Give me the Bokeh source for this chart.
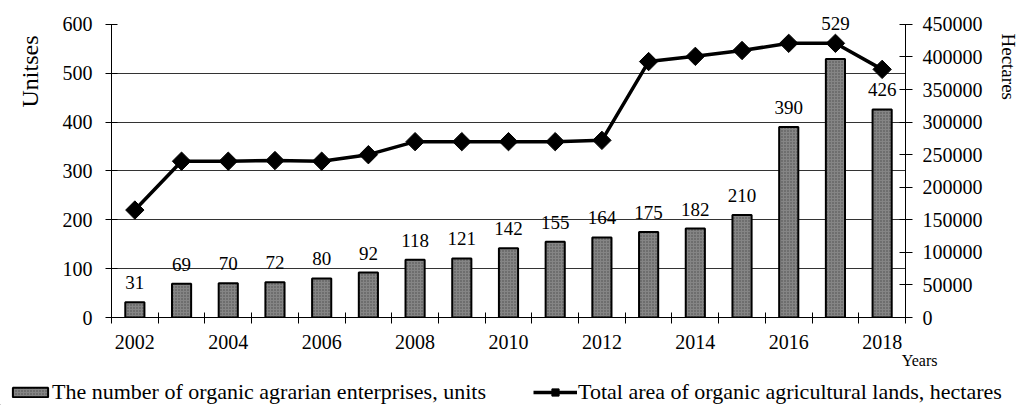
import math

from bokeh.core.properties import value
from bokeh.embed import file_html
from bokeh.layouts import column
from bokeh.models import (ColumnDataSource, FixedTicker, LabelSet, Legend,
                          LegendItem, LinearAxis, NumeralTickFormatter, Range1d, Title)
from bokeh.plotting import figure
from bokeh.resources import INLINE

# ---- data -------------------------------------------------------------
years = [2002, 2003, 2004, 2005, 2006, 2007, 2008, 2009, 2010,
         2011, 2012, 2013, 2014, 2015, 2016, 2017, 2018]
enterprises = [31, 69, 70, 72, 80, 92, 118, 121, 142,
               155, 164, 175, 182, 210, 390, 529, 426]
area_ha = [165000, 240000, 240000, 241000, 240000, 250000, 270000, 270000, 270000,
           270000, 272000, 393000, 401000, 410000, 421000, 421000, 381000]

year_labels = [2002, 2004, 2006, 2008, 2010, 2012, 2014, 2016, 2018]
units_ticks = [0, 100, 200, 300, 400, 500, 600]
units_grid = [100, 200, 300, 400, 500]
hectare_ticks = [0, 50000, 100000, 150000, 200000, 250000, 300000, 350000, 400000, 450000]

bar_name = "The number of organic agrarian enterprises, units"
line_name = "Total area of organic agricultural lands, hectares"

FONT = "Liberation Serif"
TICK_SIZE = "20px"

BAR_STYLE = dict(fill_color="#858585", line_color="black", line_width=2,
                 hatch_pattern="dot", hatch_color="#4a4a4a", hatch_scale=3,
                 hatch_weight=1)
LINE_STYLE = dict(line_color="black", line_width=3.5)
MARK_STYLE = dict(marker="square", angle=math.pi / 4, fill_color="black",
                  line_color="black")

# plot geometry: the axes run 294 px tall, the frame gets 20 px of headroom
# above the top tick so that raised value labels are not cut off
AXIS_PX = 294
HEAD_PX = 20
headroom = (AXIS_PX + HEAD_PX) / AXIS_PX

# the tallest bar's label is lifted clear of the area line's marker
peak = enterprises.index(max(enterprises))
label_lift = [13] * len(years)
label_lift[peak] = 29

src = ColumnDataSource(dict(
    year=years,
    ent=enterprises,
    ent_text=[str(v) for v in enterprises],
    lift=label_lift,
    area=area_ha,
))

p = figure(
    width=1036, height=370,
    output_backend="svg", toolbar_location=None,
    x_range=Range1d(years[0] - 0.5, years[-1] + 0.5),
    y_range=Range1d(units_ticks[0], units_ticks[-1] * headroom),
    min_border_left=111, min_border_right=131,
    min_border_top=24 - HEAD_PX, min_border_bottom=52,
)
p.outline_line_color = None
p.background_fill_color = "white"
p.border_fill_color = "white"
p.extra_y_ranges = {"ha": Range1d(hectare_ticks[0], hectare_ticks[-1] * headroom)}

# ---- bars ----------------------------------------------------------------
p.vbar(x="year", top="ent", width=0.41, source=src, **BAR_STYLE)

p.add_layout(LabelSet(
    x="year", y="ent", text="ent_text", source=src,
    y_offset="lift", text_align="center", text_baseline="bottom",
    text_font=value(FONT), text_font_size=value("19px"), text_color="black",
))

# ---- area line on secondary axis ----------------------------------------------
p.line("year", "area", source=src, y_range_name="ha", **LINE_STYLE)
p.scatter("year", "area", source=src, y_range_name="ha", size=13, **MARK_STYLE)

# ---- axes ----------------------------------------------------------------
xa = p.xaxis[0]
xa.ticker = FixedTicker(ticks=year_labels,
                        minor_ticks=[y - 0.5 for y in years] + [years[-1] + 0.5])
xa.major_label_overrides = {y: str(y) for y in year_labels}
xa.major_tick_in = 0
xa.major_tick_out = 0
xa.minor_tick_in = 5
xa.minor_tick_out = 6
xa.minor_tick_line_color = "black"
xa.axis_line_color = "black"
xa.major_label_standoff = 11
xa.major_label_text_font = FONT
xa.major_label_text_font_size = TICK_SIZE
xa.major_label_text_color = "black"

ya = p.yaxis[0]
ya.ticker = FixedTicker(ticks=units_ticks)
ya.bounds = (units_ticks[0], units_ticks[-1])
ya.minor_tick_line_color = None
ya.major_tick_in = 6
ya.major_tick_out = 6
ya.major_tick_line_color = "black"
ya.axis_line_color = "black"
ya.major_label_standoff = 13
ya.major_label_text_font = FONT
ya.major_label_text_font_size = TICK_SIZE
ya.major_label_text_color = "black"

ra = LinearAxis(y_range_name="ha", ticker=FixedTicker(ticks=hectare_ticks),
                formatter=NumeralTickFormatter(format="0"),
                bounds=(hectare_ticks[0], hectare_ticks[-1]))
ra.minor_tick_line_color = None
ra.major_tick_in = 6
ra.major_tick_out = 7
ra.major_tick_line_color = "black"
ra.axis_line_color = "black"
ra.major_label_standoff = 10
ra.major_label_text_font = FONT
ra.major_label_text_font_size = TICK_SIZE
ra.major_label_text_color = "black"
p.add_layout(ra, "right")

p.xgrid.visible = False
p.ygrid.ticker = FixedTicker(ticks=units_grid)
p.ygrid.grid_line_color = "#333333"
p.ygrid.grid_line_width = 1

# ---- axis titles, set in the side panels ---------------------------------------
def side_title(text, size, **kw):
    return Title(text=text, text_font=FONT, text_font_size=size,
                 text_font_style="normal", text_color="black", **kw)

p.add_layout(side_title("Unitses", "24px", align="right", vertical_align="top",
                        offset=31, standoff=29), "left")
p.add_layout(side_title("Hectares", "19px", align="left", vertical_align="top",
                        offset=29, standoff=21), "right")
p.add_layout(side_title("Years", "16px", align="right", vertical_align="top",
                        offset=-32, standoff=0), "below")

# ---- legend strip --------------------------------------------------------------
leg = figure(width=1036, height=35, output_backend="svg", toolbar_location=None,
             x_range=Range1d(0, 1), y_range=Range1d(0, 1),
             x_axis_location=None, y_axis_location=None,
             min_border_left=0, min_border_right=0,
             min_border_top=0, min_border_bottom=0)
leg.frame_align = False
leg.grid.visible = False
leg.outline_line_color = None
leg.border_fill_color = "white"
leg.background_fill_color = "white"

# key glyphs sit outside the strip's ranges; only their legend swatches show
offstage = ColumnDataSource(dict(x=[-5], y=[-5], top=[-5]))
key_bar = leg.vbar(x="x", top="top", width=0.1, source=offstage, **BAR_STYLE)
key_line = leg.line("x", "y", source=offstage, **LINE_STYLE)
key_mark = leg.scatter("x", "y", source=offstage, size=13, **MARK_STYLE)

def strip_legend(item, loc, gh, standoff):
    return Legend(
        items=[item], location=loc, orientation="horizontal",
        glyph_width=44, glyph_height=gh, label_standoff=standoff,
        padding=0, margin=0, spacing=0,
        border_line_color=None, background_fill_alpha=0,
        label_text_font=FONT, label_text_font_size="22px",
        label_text_color="black",
    )

leg.add_layout(strip_legend(LegendItem(label=bar_name, renderers=[key_bar]),
                            (8, 0), 12, 0))
leg.add_layout(strip_legend(LegendItem(label=line_name, renderers=[key_line, key_mark]),
                            (533, 0), 18, 1))

open("out.html", "w").write(file_html(column(p, leg, spacing=0), INLINE))
